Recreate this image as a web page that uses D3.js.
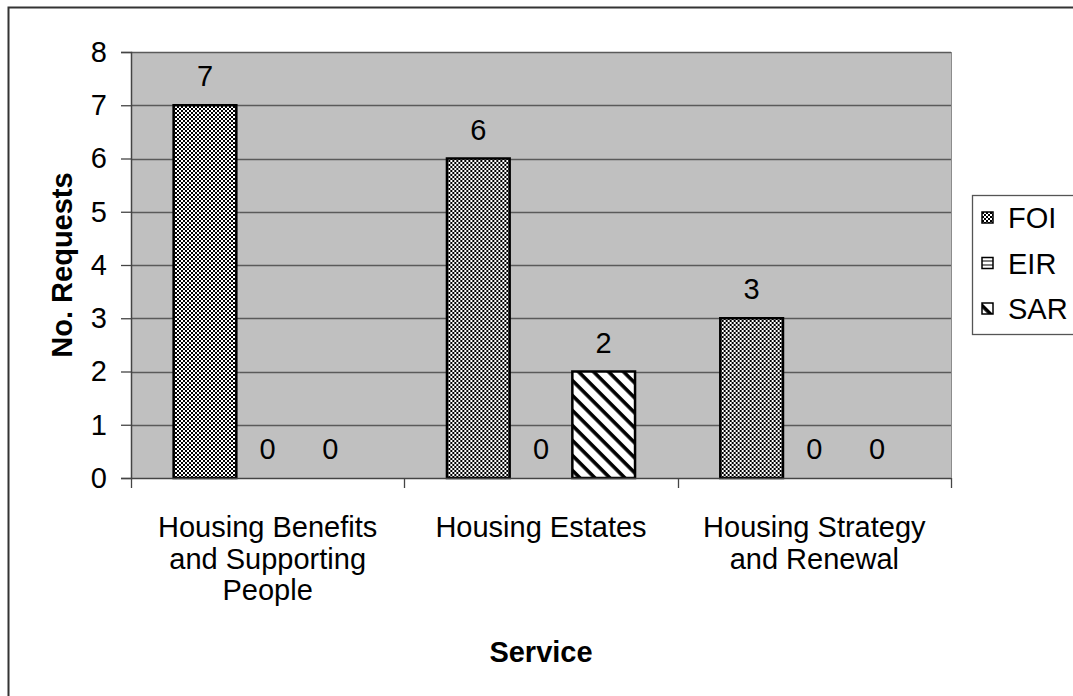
<!DOCTYPE html>
<html>
<head>
<meta charset="utf-8">
<script src="https://cdnjs.cloudflare.com/ajax/libs/d3/7.8.5/d3.min.js"></script>
<style>
  html, body { margin: 0; padding: 0; background: #fff; }
  svg { display: block; }
  text { font-family: "Liberation Sans", Arial, sans-serif; fill: #000; }
</style>
</head>
<body>
<svg id="chart" width="1073" height="696"></svg>
<script>
// Requests received per housing service, by request type
const services = [
  ["Housing Benefits", "and Supporting", "People"],
  ["Housing Estates"],
  ["Housing Strategy", "and Renewal"]
];
const requestTypes = ["FOI", "EIR", "SAR"];
const foiValues = [7, 6, 3];
const eirValues = [0, 0, 0];
const sarValues = [0, 2, 0];
const yTicks = [0, 1, 2, 3, 4, 5, 6, 7, 8];

const seriesValues = { FOI: foiValues, EIR: eirValues, SAR: sarValues };

const svg = d3.select("#chart");
const W = 1073, H = 696;
const plot = { left: 131, top: 52, right: 951, bottom: 478 };
const fontSize = 29;

// Fill patterns for each request type
const defs = svg.append("defs");
const checker = defs.append("pattern")
  .attr("id", "pat-FOI").attr("patternUnits", "userSpaceOnUse")
  .attr("width", 4).attr("height", 4);
checker.append("rect").attr("width", 4).attr("height", 4).attr("fill", "#fff");
checker.append("rect").attr("width", 2).attr("height", 2).attr("fill", "#000");
checker.append("rect").attr("x", 2).attr("y", 2).attr("width", 2).attr("height", 2).attr("fill", "#000");

const hlines = defs.append("pattern")
  .attr("id", "pat-EIR").attr("patternUnits", "userSpaceOnUse")
  .attr("width", 4).attr("height", 4);
hlines.append("rect").attr("width", 4).attr("height", 4).attr("fill", "#fff");
hlines.append("rect").attr("y", 3).attr("width", 4).attr("height", 1.2).attr("fill", "#000");

const diag = defs.append("pattern")
  .attr("id", "pat-SAR").attr("patternUnits", "userSpaceOnUse")
  .attr("width", 10.6).attr("height", 10.6)
  .attr("patternTransform", "rotate(45)");
diag.append("rect").attr("width", 10.6).attr("height", 10.6).attr("fill", "#fff");
diag.append("rect").attr("y", 0).attr("width", 10.6).attr("height", 3.6).attr("fill", "#000");

// Outer chart frame
svg.append("rect")
  .attr("x", 8.5).attr("y", 7.5).attr("width", W + 10).attr("height", H + 10)
  .attr("fill", "none").attr("stroke", "#333").attr("stroke-width", 2);

// Scales
const x0 = d3.scaleBand()
  .domain(d3.range(services.length))
  .range([plot.left, plot.right])
  .paddingInner(0).paddingOuter(0);
const x1 = d3.scaleBand()
  .domain(requestTypes)
  .range([0, x0.bandwidth()])
  .paddingInner(0).paddingOuter(0.68);
const y = d3.scaleLinear().domain([0, 8]).range([plot.bottom, plot.top]);

// Plot area background
svg.append("rect")
  .attr("x", plot.left).attr("y", plot.top)
  .attr("width", plot.right - plot.left).attr("height", plot.bottom - plot.top)
  .attr("fill", "#c0c0c0");

// Horizontal gridlines
svg.append("g").selectAll("line")
  .data(yTicks.filter(t => t > 0))
  .join("line")
  .attr("x1", plot.left).attr("x2", plot.right)
  .attr("y1", d => Math.round(y(d)) + 0.5).attr("y2", d => Math.round(y(d)) + 0.5)
  .attr("stroke", "#5a5a5a").attr("stroke-width", 1.3);

// Plot area right edge
svg.append("line")
  .attr("x1", plot.right + 0.5).attr("x2", plot.right + 0.5)
  .attr("y1", plot.top).attr("y2", plot.bottom)
  .attr("stroke", "#8c8c8c").attr("stroke-width", 1);

// Bars
const groups = svg.append("g").selectAll("g")
  .data(services.map((s, i) => i))
  .join("g")
  .attr("transform", i => `translate(${x0(i)},0)`);

groups.selectAll("rect")
  .data(i => requestTypes.map(t => ({ type: t, value: seriesValues[t][i] })))
  .join("rect")
  .filter(d => d.value > 0)
  .attr("x", d => x1(d.type))
  .attr("y", d => y(d.value))
  .attr("width", x1.bandwidth())
  .attr("height", d => y(0) - y(d.value))
  .attr("fill", d => `url(#pat-${d.type})`)
  .attr("stroke", "#000").attr("stroke-width", 2.5);

// Value labels
groups.selectAll("text")
  .data(i => requestTypes.map(t => ({ type: t, value: seriesValues[t][i] })))
  .join("text")
  .attr("x", d => x1(d.type) + x1.bandwidth() / 2)
  .attr("y", d => y(d.value) - 19)
  .attr("text-anchor", "middle")
  .attr("font-size", fontSize)
  .text(d => d.value);

// Y axis
const yAxis = d3.axisLeft(y).tickValues(yTicks).tickSize(10).tickPadding(14).tickFormat(d3.format("d"));
const gy = svg.append("g").attr("transform", `translate(${plot.left},0)`).call(yAxis);
gy.select(".domain").attr("stroke", "#444").attr("stroke-width", 1.5);
gy.selectAll(".tick line").attr("stroke", "#444").attr("stroke-width", 1.3);
gy.selectAll(".tick text")
  .attr("font-size", fontSize)
  .attr("font-family", "Liberation Sans, Arial, sans-serif")
  .attr("fill", "#000");

// X axis: baseline and category boundary ticks
svg.append("line")
  .attr("x1", plot.left).attr("x2", plot.right)
  .attr("y1", plot.bottom + 0.5).attr("y2", plot.bottom + 0.5)
  .attr("stroke", "#444").attr("stroke-width", 1.5);
svg.append("g").selectAll("line")
  .data(d3.range(services.length + 1))
  .join("line")
  .attr("x1", i => Math.round(i < services.length ? x0(i) : plot.right) + 0.5)
  .attr("x2", i => Math.round(i < services.length ? x0(i) : plot.right) + 0.5)
  .attr("y1", plot.bottom).attr("y2", plot.bottom + 10)
  .attr("stroke", "#444").attr("stroke-width", 1.3);

// Category labels
const catText = svg.append("g").selectAll("text")
  .data(services)
  .join("text")
  .attr("text-anchor", "middle")
  .attr("font-size", fontSize)
  .attr("y", 537);
catText.selectAll("tspan")
  .data((d, i) => d.map(line => ({ line, i })))
  .join("tspan")
  .attr("x", d => x0(d.i) + x0.bandwidth() / 2)
  .attr("dy", (d, j) => j === 0 ? 0 : 31.5)
  .text(d => d.line);

// Axis titles
svg.append("text")
  .attr("x", (plot.left + plot.right) / 2).attr("y", 662)
  .attr("text-anchor", "middle").attr("font-size", fontSize).attr("font-weight", "bold")
  .text("Service");
svg.append("text")
  .attr("transform", `translate(72,${(plot.top + plot.bottom) / 2}) rotate(-90)`)
  .attr("text-anchor", "middle").attr("font-size", fontSize).attr("font-weight", "bold")
  .text("No. Requests");

// Legend
const legend = svg.append("g");
legend.append("rect")
  .attr("x", 972.5).attr("y", 195.5).attr("width", 120).attr("height", 139)
  .attr("fill", "#fff").attr("stroke", "#555").attr("stroke-width", 1.3);
const items = legend.selectAll("g.item")
  .data(requestTypes)
  .join("g").attr("class", "item")
  .attr("transform", (d, i) => `translate(982,${212 + i * 45.5})`);
items.append("rect")
  .attr("width", 11).attr("height", 11)
  .attr("fill", d => `url(#pat-${d})`)
  .attr("stroke", "#000").attr("stroke-width", 1.5);
items.append("text")
  .attr("x", 26).attr("y", 16)
  .attr("font-size", fontSize)
  .text(d => d);
</script>
</body>
</html>
